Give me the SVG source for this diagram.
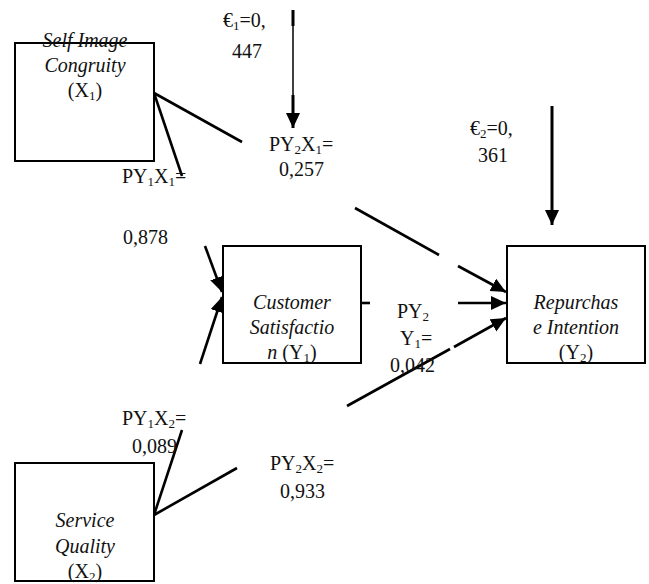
<svg xmlns="http://www.w3.org/2000/svg" width="649" height="584" viewBox="0 0 649 584">
<style>
.box{fill:#fff;stroke:#000;stroke-width:2}
text{font-family:'Liberation Serif','DejaVu Serif',serif;font-size:20px;fill:#111}
.it{font-style:italic}
.c{text-anchor:middle}
.ln{stroke:#000;stroke-width:2.6;fill:none}
.sub{font-size:13px}
</style>
<defs>
<marker id="ah" markerUnits="userSpaceOnUse" markerWidth="16" markerHeight="16" refX="15" refY="7" orient="auto">
<path d="M0,0 L15,7 L0,14 z" fill="#000"/>
</marker>
</defs>
<rect width="649" height="584" fill="#fff"/>

<g id="connectors">
  <line class="ln" x1="154" y1="93" x2="242" y2="142"/>
  <line class="ln" x1="355" y1="208" x2="439" y2="255"/>
  <line class="ln" x1="458" y1="266" x2="506" y2="292" marker-end="url(#ah)"/>
  <line class="ln" x1="154" y1="93" x2="182" y2="176"/>
  <line class="ln" x1="205" y1="246" x2="222" y2="292" marker-end="url(#ah)"/>
  <line class="ln" x1="154" y1="515" x2="182" y2="430"/>
  <line class="ln" x1="200" y1="364" x2="222" y2="297" marker-end="url(#ah)"/>
  <line class="ln" x1="154" y1="515" x2="237" y2="468"/>
  <line class="ln" x1="347" y1="406" x2="450" y2="349"/>
  <line class="ln" x1="454" y1="347" x2="506" y2="318" marker-end="url(#ah)"/>
  <line class="ln" x1="361" y1="303" x2="370" y2="303"/>
  <line class="ln" x1="458" y1="303" x2="506" y2="303" marker-end="url(#ah)"/>
  <line class="ln" x1="293" y1="10" x2="293" y2="26" style="stroke-width:3"/>
  <line class="ln" x1="293" y1="26" x2="293" y2="95" style="stroke-width:1.5"/>
  <line class="ln" x1="293" y1="95" x2="293" y2="128" style="stroke-width:3" marker-end="url(#ah)"/>
  <line class="ln" x1="552" y1="106" x2="552" y2="225" style="stroke-width:3" marker-end="url(#ah)"/>
</g>

<g id="X1">
  <rect class="box" x="15" y="43" width="139" height="118"/>
  <text class="c it" x="85" y="47">Self Image</text>
  <text class="c it" x="85" y="72">Congruity</text>
  <text class="c" x="85" y="97">(X<tspan class="sub" dy="3">1</tspan><tspan dy="-3">)</tspan></text>
</g>

<g id="Y1">
  <rect class="box" x="223" y="246" width="138" height="117"/>
  <text class="c it" x="292" y="309">Customer</text>
  <text class="c it" x="292" y="334">Satisfactio</text>
  <text class="c" x="292" y="359"><tspan class="it">n</tspan> (Y<tspan class="sub" dy="3">1</tspan><tspan dy="-3">)</tspan></text>
</g>

<g id="Y2">
  <rect class="box" x="507" y="246" width="138" height="117"/>
  <text class="c it" x="576" y="309">Repurchas</text>
  <text class="c it" x="576" y="334">e Intention</text>
  <text class="c" x="576" y="359">(Y<tspan class="sub" dy="3">2</tspan><tspan dy="-3">)</tspan></text>
</g>

<g id="X2">
  <rect class="box" x="15" y="463" width="139" height="118"/>
  <text class="c it" x="85" y="527">Service</text>
  <text class="c it" x="85" y="553">Quality</text>
  <text class="c" x="85" y="578">(X<tspan class="sub" dy="3">2</tspan><tspan dy="-3">)</tspan></text>
</g>

<g id="labels">
  <text x="223" y="27">€<tspan class="sub" dy="3">1</tspan><tspan dy="-3">=0,</tspan></text>
  <text x="232" y="58">447</text>
  <text x="470" y="135">€<tspan class="sub" dy="3">2</tspan><tspan dy="-3">=0,</tspan></text>
  <text x="478" y="162">361</text>
  <text x="269" y="151">PY<tspan class="sub" dy="3">2</tspan><tspan dy="-3">X</tspan><tspan class="sub" dy="3">1</tspan><tspan dy="-3">=</tspan></text>
  <text x="279" y="176">0,257</text>
  <text x="122" y="183">PY<tspan class="sub" dy="3">1</tspan><tspan dy="-3">X</tspan><tspan class="sub" dy="3">1</tspan><tspan dy="-3">=</tspan></text>
  <text x="123" y="244">0,878</text>
  <text x="397" y="318">PY<tspan class="sub" dy="3">2</tspan></text>
  <text x="400" y="345">Y<tspan class="sub" dy="3">1</tspan><tspan dy="-3">=</tspan></text>
  <text x="390" y="372">0,042</text>
  <text x="122" y="425">PY<tspan class="sub" dy="3">1</tspan><tspan dy="-3">X</tspan><tspan class="sub" dy="3">2</tspan><tspan dy="-3">=</tspan></text>
  <text x="132" y="453">0,089</text>
  <text x="270" y="470">PY<tspan class="sub" dy="3">2</tspan><tspan dy="-3">X</tspan><tspan class="sub" dy="3">2</tspan><tspan dy="-3">=</tspan></text>
  <text x="280" y="498">0,933</text>
</g>
</svg>
